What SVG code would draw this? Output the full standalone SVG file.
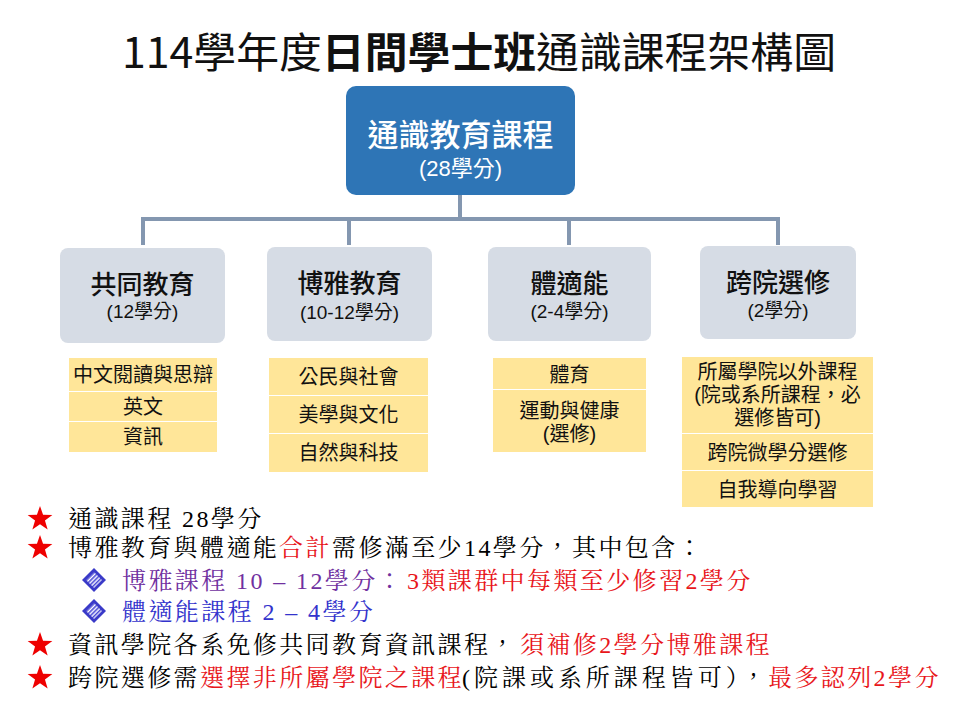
<svg xmlns="http://www.w3.org/2000/svg" width="960" height="720" viewBox="0 0 960 720">
<defs>
<style>
.sans{font-family:"Noto Sans CJK TC","Noto Sans",sans-serif;}
.box{font-family:"Liberation Sans","Noto Sans CJK TC",sans-serif;}
.note{font-family:"Liberation Serif","Noto Serif CJK TC","Noto Sans CJK TC",serif;font-size:24px;letter-spacing:2.4px;}
.root{fill:#2E75B6;}
.cat{fill:#D6DCE5;}
.item{fill:#FFE699;}
.conn{stroke:#8497B0;stroke-width:4;fill:none;}
.t1{font-size:26px;fill:#111;text-anchor:middle;font-weight:500;}
.t2{font-size:19px;fill:#111;text-anchor:middle;}
.ti{font-size:20px;fill:#111;text-anchor:middle;}
.star{fill:#EE0000;}
.blk{fill:#000;}
.red{fill:#E8161B;}
.pur{fill:#7030A0;}
.blu{fill:#3333CC;}
</style>
<pattern id="hatch" patternUnits="userSpaceOnUse" width="3" height="3" patternTransform="rotate(45)">
<rect width="3" height="3" fill="#FFFFFF"/>
<rect width="1.6" height="3" fill="#4B4BD6"/>
</pattern>
<g id="diamond">
<polygon points="0,-12 12,0 0,12 -12,0" fill="#3A3AC8"/>
<polygon points="0,-8 8,0 0,8 -8,0" fill="url(#hatch)"/>
</g>
<polygon id="star" class="star" points="0,-13 3.06,-4.21 12.36,-4.02 4.95,1.61 7.64,10.52 0,5.2 -7.64,10.52 -4.95,1.61 -12.36,-4.02 -3.06,-4.21"/>
</defs>
<rect width="960" height="720" fill="#FFFFFF"/>

<text id="title" class="sans" x="479" y="68" font-size="42" text-anchor="middle" fill="#111" textLength="714" lengthAdjust="spacingAndGlyphs">114學年度<tspan font-weight="bold">日間學士班</tspan>通識課程架構圖</text>

<g id="connectors">
<path class="conn" d="M460,195 V219 M141,219 H780 M143,219 V245 M349,219 V245 M569,219 V245 M778,219 V245"/>
</g>

<g id="node-root">
<rect class="root" x="346" y="86" width="229" height="109" rx="10"/>
<text class="box" x="460.5" y="146" font-size="31" fill="#FFFFFF" text-anchor="middle" font-weight="500">通識教育課程</text>
<text class="box" x="460.5" y="176" font-size="22" fill="#FFFFFF" text-anchor="middle">(28學分)</text>
</g>

<g id="node-common">
<rect class="cat" x="60" y="248" width="165" height="95" rx="8"/>
<text class="box t1" x="142.5" y="294">共同教育</text>
<text class="box t2" x="142.5" y="318">(12學分)</text>
</g>
<g id="node-liberal">
<rect class="cat" x="267" y="247" width="165" height="94" rx="8"/>
<text class="box t1" x="349.5" y="293">博雅教育</text>
<text class="box t2" x="349.5" y="319">(10-12學分)</text>
</g>
<g id="node-fitness">
<rect class="cat" x="488" y="247" width="163" height="94" rx="8"/>
<text class="box t1" x="569.5" y="293">體適能</text>
<text class="box t2" x="569.5" y="318">(2-4學分)</text>
</g>
<g id="node-cross">
<rect class="cat" x="700" y="246" width="156" height="93" rx="8"/>
<text class="box t1" x="778" y="292">跨院選修</text>
<text class="box t2" x="778" y="317">(2學分)</text>
</g>

<g id="list-common">
<rect class="item" x="69" y="358" width="148" height="33"/>
<rect class="item" x="69" y="392" width="148" height="29"/>
<rect class="item" x="69" y="422" width="148" height="30"/>
<text class="box ti" x="143" y="382" font-size="18.5">中文閱讀與思辯</text>
<text class="box ti" x="143" y="414">英文</text>
<text class="box ti" x="143" y="444">資訊</text>
</g>
<g id="list-liberal">
<rect class="item" x="269" y="358" width="159" height="37"/>
<rect class="item" x="269" y="396" width="159" height="37"/>
<rect class="item" x="269" y="434" width="159" height="38"/>
<text class="box ti" x="348.5" y="384">公民與社會</text>
<text class="box ti" x="348.5" y="422">美學與文化</text>
<text class="box ti" x="348.5" y="460">自然與科技</text>
</g>
<g id="list-fitness">
<rect class="item" x="493" y="358" width="153" height="31"/>
<rect class="item" x="493" y="390" width="153" height="62"/>
<text class="box ti" x="569.5" y="382">體育</text>
<text class="box ti" x="569.5" y="418" font-size="19.5">運動與健康</text>
<text class="box ti" x="569.5" y="441" font-size="19.5">(選修)</text>
</g>
<g id="list-cross">
<rect class="item" x="682" y="357" width="191" height="76"/>
<rect class="item" x="682" y="434" width="191" height="36"/>
<rect class="item" x="682" y="471" width="191" height="36"/>
<text class="box ti" x="777.5" y="379">所屬學院以外課程</text>
<text class="box ti" x="777.5" y="402">(院或系所課程，必</text>
<text class="box ti" x="777.5" y="425">選修皆可)</text>
<text class="box ti" x="777.5" y="460">跨院微學分選修</text>
<text class="box ti" x="777.5" y="497">自我導向學習</text>
</g>

<g id="notes">
<use href="#star" x="40" y="519"/>
<use href="#star" x="40" y="548"/>
<use href="#star" x="40" y="645"/>
<use href="#star" x="40" y="678"/>
<use href="#diamond" x="94" y="580"/>
<use href="#diamond" x="94" y="611"/>
<text class="note blk" x="68" y="527">通識課程 28學分</text>
<text class="note" y="556"><tspan class="blk" x="68">博雅教育與體適能</tspan><tspan class="red" x="279">合計</tspan><tspan class="blk" x="332">需修滿至少14學分，其中包含：</tspan></text>
<text class="note" y="589"><tspan class="pur" x="122">博雅課程 10 – 12學分：</tspan><tspan class="red" x="407">3類課群中每類至少修習2學分</tspan></text>
<text class="note blu" x="122" y="620">體適能課程 2 – 4學分</text>
<text class="note" y="653"><tspan class="blk" x="68">資訊學院各系免修共同教育資訊課程，</tspan><tspan class="red" x="520">須補修2學分博雅課程</tspan></text>
<text class="note" y="686"><tspan class="blk" x="68">跨院選修需</tspan><tspan class="red" x="200">選擇非所屬學院之課程</tspan><tspan class="blk" x="462" textLength="306" lengthAdjust="spacing">(院課或系所課程皆可），</tspan><tspan class="red" x="768">最多認列2學分</tspan></text>
</g>
</svg>
